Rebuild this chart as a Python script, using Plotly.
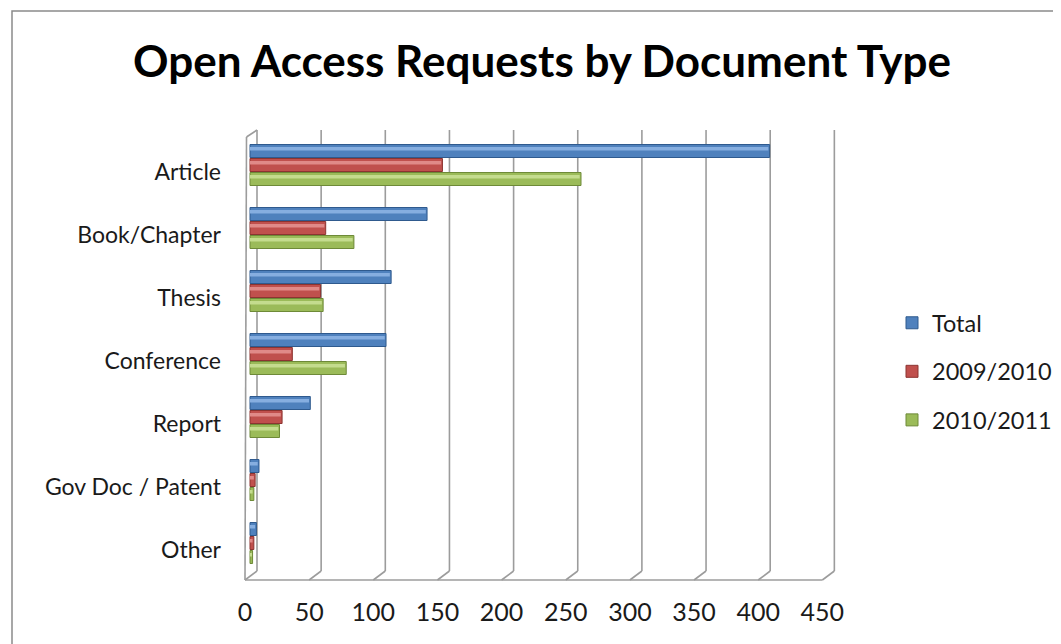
import plotly.graph_objects as go

categories = ["Article", "Book/Chapter", "Thesis", "Conference", "Report", "Gov Doc / Patent", "Other"]
total = [405, 138, 110, 106, 47, 7, 5]
y2009_2010 = [150, 59, 55, 33, 25, 4, 3]
y2010_2011 = [258, 81, 57, 75, 23, 3, 2]
series_names = ["Total", "2009/2010", "2010/2011"]
x_ticks = [0, 50, 100, 150, 200, 250, 300, 350, 400, 450]

series = [total, y2009_2010, y2010_2011]
fills = ["#4F81BD", "#C0504D", "#9BBB59"]
edges = ["#2F5A8E", "#8C3431", "#6E8A38"]
highs = ["#86AEE0", "#E08A88", "#C4DC8E"]

FONT = "Lato"
W, H = 1061, 644
OFF = 8                         # page body margin
# plot area in page (reference) pixels
PL, PR, PT, PB = 240, 845, 120, 590
ML, MT = PL - OFF, PT - OFF
MR, MB = W - (PR - OFF), H - (PB - OFF)
PW, PH = PR - PL, PB - PT
K = 1.283                       # px per unit
X0 = -(250 - PL) / K
X1 = X0 + PW / K
ROW = 63.0
Y_TOP = -(165 - PT) / ROW
Y_BOT = (PB - 165) / ROW

def vx(px):
    return X0 + (px - PL) / K

def py(p):
    return (PB - p) / PH

def pxp(px):
    return (px - PL) / PW

bar_w = 13 / ROW
pitch = 14 / ROW
fig = go.Figure()
for i, (name, vals) in enumerate(zip(series_names, series)):
    off = (i - 1) * pitch - bar_w / 2
    fig.add_trace(go.Bar(
        y=list(range(len(categories))), x=vals, orientation="h", name=name,
        width=bar_w, offset=off,
        marker=dict(color=fills[i], line=dict(color=edges[i], width=1)),
        legendgroup=name,
    ))
for i, (name, vals) in enumerate(zip(series_names, series)):
    off = (i - 1) * pitch - bar_w / 2 + 2.5 / ROW
    fig.add_trace(go.Bar(
        y=list(range(len(categories))), x=[v - 1.0 for v in vals], orientation="h", name=name,
        width=3.5 / ROW, offset=off, showlegend=False, hoverinfo="skip",
        marker=dict(color=highs[i], line=dict(width=0)), legendgroup=name,
    ))

shapes = []
gc = "#9C9C9C"
lw = 1.6
back_top, back_floor, front_floor = py(130), py(571), py(580)
for t in x_ticks:
    bx = vx(257) + t
    fx = vx(245) + t
    shapes.append(dict(type="line", xref="x", yref="paper", x0=bx, x1=bx, y0=back_floor, y1=back_top,
                       line=dict(color=gc, width=lw), layer="below"))
    shapes.append(dict(type="line", xref="x", yref="paper", x0=bx, x1=fx, y0=back_floor, y1=front_floor,
                       line=dict(color=gc, width=lw), layer="below"))
shapes.append(dict(type="line", xref="x", yref="paper", x0=vx(245), x1=vx(245) + 450, y0=front_floor, y1=front_floor,
                   line=dict(color=gc, width=lw), layer="below"))
shapes.append(dict(type="line", xref="x", yref="paper", x0=vx(246.5), x1=vx(245), y0=py(137), y1=front_floor,
                   line=dict(color=gc, width=lw), layer="below"))
shapes.append(dict(type="line", xref="x", yref="paper", x0=vx(246.5), x1=vx(257), y0=py(137), y1=back_top,
                   line=dict(color=gc, width=lw), layer="below"))
# chart border
shapes.append(dict(type="rect", xref="paper", yref="paper",
                   x0=pxp(12), x1=pxp(1085), y0=py(670), y1=py(11),
                   line=dict(color="#8A8A8A", width=1.5), fillcolor="rgba(0,0,0,0)"))

fig.update_layout(
    width=W, height=H,
    margin=dict(l=ML, r=MR, t=MT, b=MB),
    paper_bgcolor="white", plot_bgcolor="white",
    barmode="overlay",
    font=dict(family=FONT, color="#1a1a1a", size=23),
    title=dict(text="<b>Open Access Requests by Document Type</b>", x=(542 - OFF) / W, xanchor="center",
               y=1 - (62 - OFF) / H, yanchor="middle", font=dict(family=FONT, size=44, color="black")),
    xaxis=dict(range=[X0, X1], tickvals=x_ticks, showgrid=False, zeroline=False, showline=False,
               ticks="", ticklabelshift=-5, ticklabelstandoff=5, tickfont=dict(size=25)),
    yaxis=dict(range=[Y_BOT, Y_TOP], tickvals=list(range(len(categories))), ticktext=categories,
               showgrid=False, zeroline=False, showline=False, ticks="", ticklabelshift=-7,
               ticklabelstandoff=18, tickfont=dict(size=23)),
    legend=dict(x=pxp(892), y=py(301), xanchor="left", yanchor="top", tracegroupgap=15,
                font=dict(size=23.5), bgcolor="rgba(0,0,0,0)"),
    shapes=shapes,
    showlegend=True,
)
fig.write_html("out.html")
